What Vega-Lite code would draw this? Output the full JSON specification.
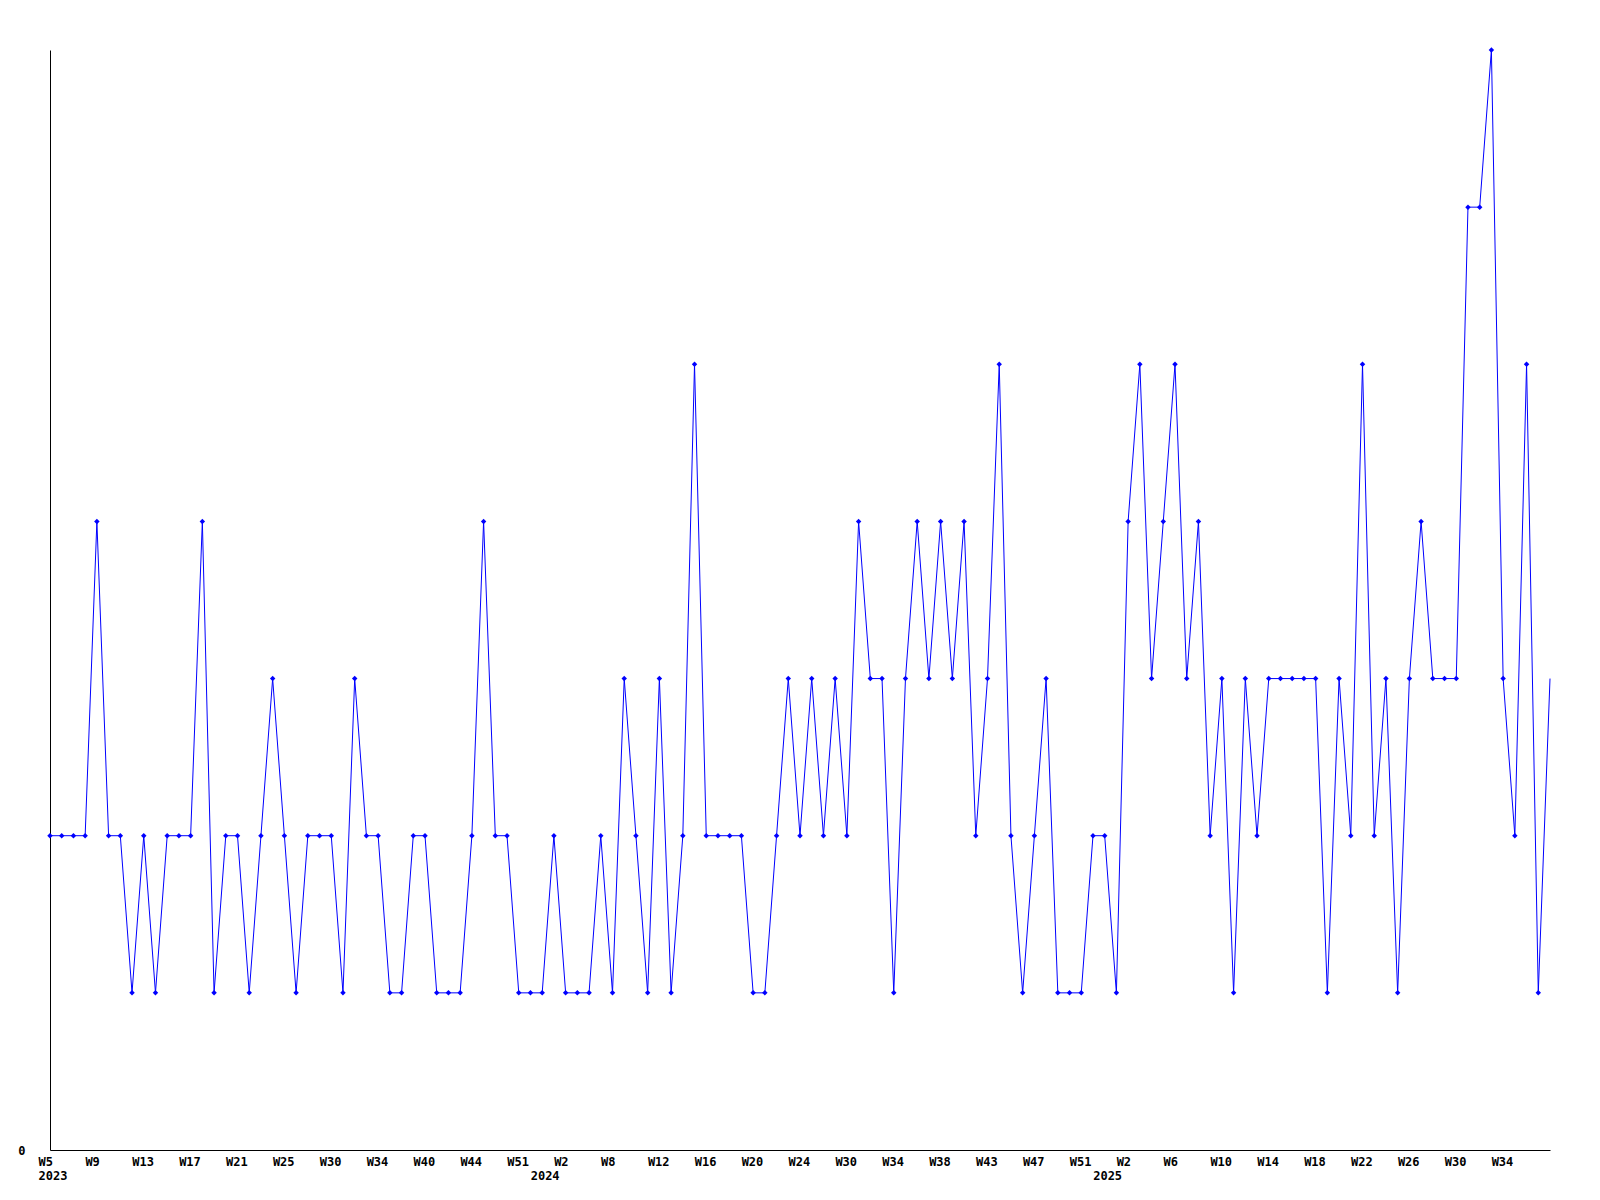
{
  "$schema": "https://vega.github.io/schema/vega-lite/v6.json",
  "autosize": {"type": "none"},
  "padding": {"left": 50, "top": 50, "right": 50, "bottom": 50},
  "width": 1500,
  "height": 1100,
  "background": "white",
  "config": {"view": {"stroke": null}},
  "data": {"values": [
    {"i":0,"v":2},{"i":1,"v":2},{"i":2,"v":2},{"i":3,"v":2},{"i":4,"v":4},{"i":5,"v":2},{"i":6,"v":2},{"i":7,"v":1},{"i":8,"v":2},{"i":9,"v":1},
    {"i":10,"v":2},{"i":11,"v":2},{"i":12,"v":2},{"i":13,"v":4},{"i":14,"v":1},{"i":15,"v":2},{"i":16,"v":2},{"i":17,"v":1},{"i":18,"v":2},{"i":19,"v":3},
    {"i":20,"v":2},{"i":21,"v":1},{"i":22,"v":2},{"i":23,"v":2},{"i":24,"v":2},{"i":25,"v":1},{"i":26,"v":3},{"i":27,"v":2},{"i":28,"v":2},{"i":29,"v":1},
    {"i":30,"v":1},{"i":31,"v":2},{"i":32,"v":2},{"i":33,"v":1},{"i":34,"v":1},{"i":35,"v":1},{"i":36,"v":2},{"i":37,"v":4},{"i":38,"v":2},{"i":39,"v":2},
    {"i":40,"v":1},{"i":41,"v":1},{"i":42,"v":1},{"i":43,"v":2},{"i":44,"v":1},{"i":45,"v":1},{"i":46,"v":1},{"i":47,"v":2},{"i":48,"v":1},{"i":49,"v":3},
    {"i":50,"v":2},{"i":51,"v":1},{"i":52,"v":3},{"i":53,"v":1},{"i":54,"v":2},{"i":55,"v":5},{"i":56,"v":2},{"i":57,"v":2},{"i":58,"v":2},{"i":59,"v":2},
    {"i":60,"v":1},{"i":61,"v":1},{"i":62,"v":2},{"i":63,"v":3},{"i":64,"v":2},{"i":65,"v":3},{"i":66,"v":2},{"i":67,"v":3},{"i":68,"v":2},{"i":69,"v":4},
    {"i":70,"v":3},{"i":71,"v":3},{"i":72,"v":1},{"i":73,"v":3},{"i":74,"v":4},{"i":75,"v":3},{"i":76,"v":4},{"i":77,"v":3},{"i":78,"v":4},{"i":79,"v":2},
    {"i":80,"v":3},{"i":81,"v":5},{"i":82,"v":2},{"i":83,"v":1},{"i":84,"v":2},{"i":85,"v":3},{"i":86,"v":1},{"i":87,"v":1},{"i":88,"v":1},{"i":89,"v":2},
    {"i":90,"v":2},{"i":91,"v":1},{"i":92,"v":4},{"i":93,"v":5},{"i":94,"v":3},{"i":95,"v":4},{"i":96,"v":5},{"i":97,"v":3},{"i":98,"v":4},{"i":99,"v":2},
    {"i":100,"v":3},{"i":101,"v":1},{"i":102,"v":3},{"i":103,"v":2},{"i":104,"v":3},{"i":105,"v":3},{"i":106,"v":3},{"i":107,"v":3},{"i":108,"v":3},{"i":109,"v":1},
    {"i":110,"v":3},{"i":111,"v":2},{"i":112,"v":5},{"i":113,"v":2},{"i":114,"v":3},{"i":115,"v":1},{"i":116,"v":3},{"i":117,"v":4},{"i":118,"v":3},{"i":119,"v":3},
    {"i":120,"v":3},{"i":121,"v":6},{"i":122,"v":6},{"i":123,"v":7},{"i":124,"v":3},{"i":125,"v":2},{"i":126,"v":5},{"i":127,"v":1},{"i":128,"v":3}
  ]},
  "encoding": {
    "x": {
      "field": "i", "type": "quantitative",
      "scale": {"domain": [0, 128], "nice": false, "zero": false},
      "axis": {
        "title": null, "grid": false, "ticks": false,
        "domainColor": "black", "domainWidth": 1,
        "values": [0,4,8,12,16,20,24,28,32,36,40,42,44,48,52,56,60,64,68,72,76,80,84,88,90,92,96,100,104,108,112,116,120,124],
        "labelExpr": "datum.value == 0 ? ['W5','2023'] : datum.value == 42 ? ['', '2024'] : datum.value == 90 ? ['', '2025'] : ['W5','W9','W13','W17','W21','W25','W30','W34','W40','W44','W51','W2','W8','W12','W16','W20','W24','W30','W34','W38','W43','W47','W51','W2','W6','W10','W14','W18','W22','W26','W30','W34'][datum.value/4]",
        "labelAlign": "left", "labelOffset": -12, "labelBaseline": "top",
        "labelPadding": 6, "labelLineHeight": 14.5,
        "labelFont": "DejaVu Sans Mono", "labelFontWeight": "bold", "labelFontSize": 12,
        "labelColor": "black", "labelOverlap": false, "labelFlush": false, "labelBound": false
      }
    },
    "y": {
      "field": "v", "type": "quantitative",
      "scale": {"domain": [0, 7], "nice": false},
      "axis": {
        "title": null, "grid": false, "ticks": false, "values": [0],
        "domainColor": "black", "domainWidth": 1,
        "labelPadding": 25, "labelFont": "DejaVu Sans Mono", "labelFontWeight": "bold",
        "labelFontSize": 12, "labelColor": "black", "labelBaseline": "middle"
      }
    }
  },
  "layer": [
    {"mark": {"type": "line", "color": "#0000ff", "strokeWidth": 1}},
    {
      "transform": [{"filter": "datum.i < 128"}],
      "mark": {"type": "point", "shape": "diamond", "filled": true, "color": "#0000ff", "size": 30, "opacity": 1}
    }
  ]
}
